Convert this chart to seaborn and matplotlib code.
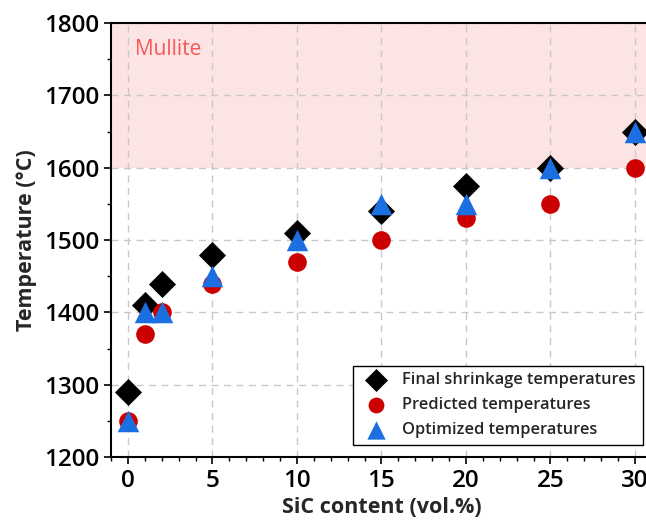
import pandas as pd
import matplotlib.pyplot as plt
import seaborn as sns
from matplotlib.ticker import MultipleLocator

# values
sic = [0, 1, 2, 5, 10, 15, 20, 25, 30]
final_shrinkage = [1290, 1410, 1440, 1480, 1510, 1540, 1575, 1600, 1650]
predicted = [1250, 1370, 1400, 1440, 1470, 1500, 1530, 1550, 1600]
optimized = [1250, 1400, 1400, 1450, 1500, 1550, 1550, 1600, 1650]

series = ['Final shrinkage temperatures', 'Predicted temperatures', 'Optimized temperatures']
df = pd.DataFrame({
    'SiC': sic * 3,
    'Temp': final_shrinkage + predicted + optimized,
    'Series': [s for s in series for _ in sic],
})

sns.set_style('ticks')
plt.rcParams['font.family'] = ['Open Sans', 'DejaVu Sans']

fig = plt.figure(figsize=(6.46, 5.26), dpi=100)
ax = fig.add_axes([0.172, 0.131, 0.837, 0.825])

ax.axhspan(1600, 1800, color='#fde4e4', zorder=0, lw=0)
ax.text(0.4, 1764, 'Mullite', color='#f55858', fontsize=15, va='center', ha='left')

palette = {series[0]: 'black', series[1]: '#cc0000', series[2]: '#1c6fe0'}
markers = {series[0]: 'D', series[1]: 'o', series[2]: '^'}
sizes = {series[0]: 190, series[1]: 180, series[2]: 240}

for s in series:
    sub = df[df['Series'] == s]
    sns.scatterplot(data=sub, x='SiC', y='Temp', color=palette[s], marker=markers[s],
                    s=sizes[s], linewidth=0, label=s, ax=ax, zorder=3)

ax.set_xlim(-1, 31)
ax.set_ylim(1200, 1800)
ax.xaxis.set_major_locator(MultipleLocator(5))
ax.xaxis.set_minor_locator(MultipleLocator(1))
ax.yaxis.set_major_locator(MultipleLocator(100))
ax.yaxis.set_minor_locator(MultipleLocator(50))
ax.grid(True, which='major', linestyle=(0, (5, 4)), color='#c8c8c8', lw=1)
ax.set_axisbelow(True)

for sp in ax.spines.values():
    sp.set_color('black')
    sp.set_linewidth(1.5)
ax.spines['right'].set_visible(False)

ax.tick_params(which='major', direction='out', length=5, width=1.2, labelsize=17.5, colors='black')
ax.tick_params(which='minor', direction='out', length=3, width=1.0, colors='black')
for lab in ax.get_xticklabels() + ax.get_yticklabels():
    lab.set_fontweight('semibold')

ax.set_xlabel('SiC content (vol.%)', fontsize=15.5, fontweight='bold', labelpad=3)
ax.set_ylabel('Temperature (°C)', fontsize=15.5, fontweight='bold', labelpad=5)

leg = ax.legend(loc='lower right', bbox_to_anchor=(0.983, 0.028), borderaxespad=0,
                fontsize=11.8, frameon=True, fancybox=False, edgecolor='black',
                handletextpad=0.6, borderpad=0.4, labelspacing=0.55, markerscale=0.85)
leg.get_frame().set_linewidth(1.0)
leg.get_frame().set_alpha(1)
for t in leg.get_texts():
    t.set_fontweight('semibold')

fig.savefig('out.png', dpi=100)
